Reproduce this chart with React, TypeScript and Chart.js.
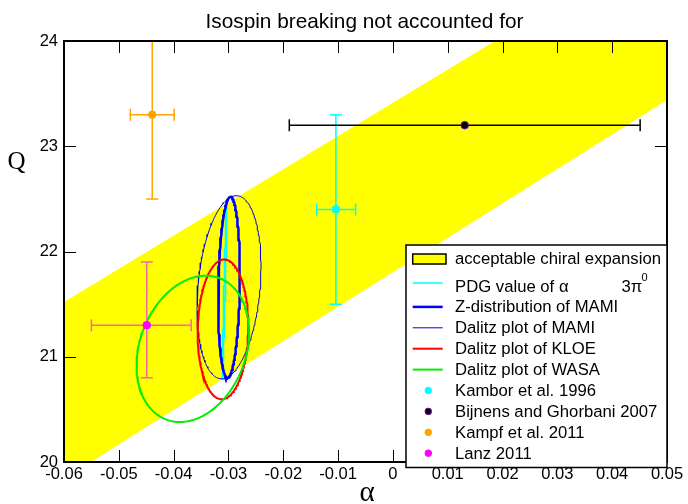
import React, { useEffect, useRef } from 'react';
import { Chart, registerables } from 'chart.js';

Chart.register(...registerables);

// ---------- text ----------
const TITLE = 'Isospin breaking not accounted for';
const X_TITLE = 'α';
const Y_TITLE = 'Q';

// ---------- axes ----------
const X_MIN = -0.06;
const X_MAX = 0.05;
const X_STEP = 0.01;
const Y_MIN = 20;
const Y_MAX = 24;
const Y_STEP = 1;

// ---------- acceptable band (straight edges) ----------
const bandLabel = 'acceptable chiral expansion';
const bandAlpha = [-0.06, 0.05];
const bandLowerQ = [19.84, 23.44];
const bandUpperQ = [21.52, 24.99];

// ---------- ellipses ----------
const ellipseLabels = [
  'PDG value of α',
  'Z-distribution of MAMI',
  'Dalitz plot of MAMI',
  'Dalitz plot of KLOE',
  'Dalitz plot of WASA',
];
const ellipseAlpha = [-0.0307, -0.0299, -0.0299, -0.031, -0.0365];
const ellipseQ = [21.64, 21.66, 21.66, 21.26, 21.075];
const ellipseSigmaAlpha = [0.00042, 0.00197, 0.00584, 0.00462, 0.01027];
const ellipseSigmaQ = [0.86, 0.86, 0.87, 0.664, 0.695];
const ellipseRho = [0.95, 0.14, 0.23, 0.05, 0.23];

// ---------- points with error bars ----------
const pointLabels = ['Kambor et al. 1996', 'Bijnens and Ghorbani 2007', 'Kampf et al. 2011', 'Lanz 2011'];
const pointAlpha = [-0.0104, 0.0131, -0.0439, -0.0449];
const pointQ = [22.4, 23.2, 23.3, 21.3];
const alphaErrLow = [0.0035, 0.032, 0.004, 0.0101];
const alphaErrHigh = [0.0036, 0.032, 0.004, 0.0081];
const qErrLow = [0.9, 0, 0.8, 0.5];
const qErrHigh = [0.9, 0, 0.8, 0.6];

// ---------- styles ----------
const BAND_COLOR = '#ffff00';
const ellipseColors = ['#00ffff', '#0000ff', '#0000dd', '#ff0000', '#00ee00'];
const ellipseWidths = [1.5, 2.5, 1, 2, 2];
const pointFill = ['#00ffff', '#000000', '#ffa500', '#ff00ff'];
const pointEdge = ['#00ffff', '#8a00c8', '#ffa500', '#ff00ff'];
const errorColors = ['#00ffff', '#000000', '#ffa500', '#ff66aa'];
const SANS = '"Liberation Sans", Arial, Helvetica, sans-serif';
const SERIF = '"Liberation Serif", "Times New Roman", serif';

function ellipsePoints(i: number) {
  const pts: { x: number; y: number }[] = [];
  const n = 200;
  const r = ellipseRho[i];
  const k = Math.sqrt(1 - r * r);
  for (let j = 0; j <= n; j++) {
    const t = (2 * Math.PI * j) / n;
    pts.push({
      x: ellipseAlpha[i] + ellipseSigmaAlpha[i] * Math.cos(t),
      y: ellipseQ[i] + ellipseSigmaQ[i] * (r * Math.cos(t) + k * Math.sin(t)),
    });
  }
  return pts;
}

const POINTS_INDEX = 0;
const CAP = 6;

const errorBarPlugin = {
  id: 'errorBars',
  beforeDatasetDraw(chart: any, args: any) {
    if (args.index !== POINTS_INDEX) return;
    const { ctx, chartArea: ca } = chart;
    const x = chart.scales.x;
    const y = chart.scales.y;
    ctx.save();
    ctx.beginPath();
    ctx.rect(ca.left, ca.top, ca.right - ca.left, ca.bottom - ca.top);
    ctx.clip();
    ctx.lineWidth = 1.5;
    pointAlpha.forEach((a, i) => {
      ctx.strokeStyle = errorColors[i];
      const px = x.getPixelForValue(a);
      const py = y.getPixelForValue(pointQ[i]);
      const xl = x.getPixelForValue(a - alphaErrLow[i]);
      const xr = x.getPixelForValue(a + alphaErrHigh[i]);
      ctx.beginPath();
      ctx.moveTo(xl, py);
      ctx.lineTo(xr, py);
      ctx.moveTo(xl, py - CAP);
      ctx.lineTo(xl, py + CAP);
      ctx.moveTo(xr, py - CAP);
      ctx.lineTo(xr, py + CAP);
      if (qErrLow[i] > 0 || qErrHigh[i] > 0) {
        const yb = y.getPixelForValue(pointQ[i] - qErrLow[i]);
        const yt = y.getPixelForValue(pointQ[i] + qErrHigh[i]);
        ctx.moveTo(px, yb);
        ctx.lineTo(px, yt);
        ctx.moveTo(px - CAP, yb);
        ctx.lineTo(px + CAP, yb);
        ctx.moveTo(px - CAP, yt);
        ctx.lineTo(px + CAP, yt);
      }
      ctx.stroke();
    });
    ctx.restore();
  },
};

const framePlugin = {
  id: 'frameTicks',
  afterDatasetsDraw(chart: any) {
    const { ctx, chartArea: ca } = chart;
    const x = chart.scales.x;
    const y = chart.scales.y;
    const TL = 12;
    ctx.save();
    ctx.strokeStyle = '#000';
    ctx.lineWidth = 1;
    ctx.beginPath();
    x.ticks.forEach((t: any) => {
      if (t.value <= X_MIN + 1e-9 || t.value >= X_MAX - 1e-9) return;
      const px = Math.round(x.getPixelForValue(t.value)) + 0.5;
      ctx.moveTo(px, ca.bottom);
      ctx.lineTo(px, ca.bottom - TL);
      ctx.moveTo(px, ca.top);
      ctx.lineTo(px, ca.top + TL);
    });
    y.ticks.forEach((t: any) => {
      if (t.value <= Y_MIN + 1e-9 || t.value >= Y_MAX - 1e-9) return;
      const py = Math.round(y.getPixelForValue(t.value)) + 0.5;
      ctx.moveTo(ca.left, py);
      ctx.lineTo(ca.left + TL, py);
      ctx.moveTo(ca.right, py);
      ctx.lineTo(ca.right - TL, py);
    });
    ctx.stroke();
    ctx.lineWidth = 2;
    ctx.strokeRect(ca.left, ca.top, ca.right - ca.left, ca.bottom - ca.top);
    ctx.restore();
  },
};

const textPlugin = {
  id: 'textsAndLegend',
  afterDraw(chart: any) {
    const { ctx, chartArea: ca } = chart;
    ctx.save();
    ctx.fillStyle = '#000';
    // title
    ctx.font = `20.8px ${SANS}`;
    ctx.textAlign = 'center';
    ctx.textBaseline = 'alphabetic';
    ctx.fillText(TITLE, (ca.left + ca.right) / 2 - 1, 27.5);
    // axis titles
    ctx.font = `25px ${SERIF}`;
    ctx.fillText(Y_TITLE, 16.5, 169);
    ctx.font = `29px ${SERIF}`;
    ctx.fillText(X_TITLE, 367, 501);

    // legend
    const L = { left: 406, top: 245, right: ca.right, bottom: 467.5 };
    ctx.fillStyle = '#fff';
    ctx.fillRect(L.left, L.top, L.right - L.left, L.bottom - L.top);
    ctx.strokeStyle = '#000';
    ctx.lineWidth = 1.5;
    ctx.strokeRect(L.left, L.top, L.right - L.left, L.bottom - L.top);

    const symL = 412.7;
    const symR = 442.7;
    const textX = 455;
    ctx.textAlign = 'left';
    ctx.font = `16.7px ${SANS}`;

    // band row
    ctx.fillStyle = BAND_COLOR;
    ctx.fillRect(symL, 254, 33.3, 10);
    ctx.strokeRect(symL, 254, 33.3, 10);
    ctx.fillStyle = '#000';
    ctx.fillText(bandLabel, textX, 263.5);

    const base0 = 291.5;
    const step = 20.9;
    ellipseLabels.forEach((lab, i) => {
      const yb = base0 + step * i;
      const ys = i === 0 ? 283 : yb - 5.5;
      ctx.strokeStyle = ellipseColors[i];
      ctx.lineWidth = ellipseWidths[i];
      ctx.beginPath();
      ctx.moveTo(symL, ys);
      ctx.lineTo(symR, ys);
      ctx.stroke();
      ctx.fillStyle = '#000';
      ctx.font = `16.7px ${SANS}`;
      ctx.fillText(lab, textX, yb);
      if (i === 0) {
        ctx.fillText('3π', 621.5, yb);
        ctx.font = `11px ${SANS}`;
        ctx.fillText('0', 641.5, yb - 11);
      }
    });
    pointLabels.forEach((lab, j) => {
      const yb = base0 + step * (ellipseLabels.length + j);
      const ys = yb - 5.5;
      ctx.fillStyle = pointFill[j];
      ctx.strokeStyle = pointEdge[j];
      ctx.lineWidth = 1;
      ctx.beginPath();
      ctx.arc(428.3, ys, 3.3, 0, Math.PI * 2);
      ctx.fill();
      ctx.stroke();
      ctx.fillStyle = '#000';
      ctx.font = `16.7px ${SANS}`;
      ctx.fillText(lab, textX, yb);
    });
    ctx.restore();
  },
};

function fmt(v: number) {
  return String(parseFloat(Number(v).toFixed(2)));
}

export default function App() {
  const ref = useRef<HTMLCanvasElement>(null);
  useEffect(() => {
    if (!ref.current) return;
    const datasets: any[] = [];
    datasets.push({
      label: 'points',
      data: pointAlpha.map((a, i) => ({ x: a, y: pointQ[i] })),
      showLine: false,
      pointRadius: 3.8,
      pointBackgroundColor: pointFill,
      pointBorderColor: pointEdge,
      pointBorderWidth: 1,
      order: 0,
    });
    ellipseLabels.forEach((lab, i) => {
      datasets.push({
        label: lab,
        data: ellipsePoints(i),
        borderColor: ellipseColors[i],
        borderWidth: ellipseWidths[i],
        pointRadius: 0,
        fill: false,
        tension: 0,
        order: 6 - i,
      });
    });
    const lowerIndex = datasets.length;
    datasets.push({
      label: bandLabel + ' (lower)',
      data: bandAlpha.map((a, i) => ({ x: a, y: bandLowerQ[i] })),
      borderWidth: 0,
      borderColor: 'rgba(0,0,0,0)',
      pointRadius: 0,
      fill: false,
      order: 10,
    });
    datasets.push({
      label: bandLabel,
      data: bandAlpha.map((a, i) => ({ x: a, y: bandUpperQ[i] })),
      borderWidth: 0,
      borderColor: 'rgba(0,0,0,0)',
      backgroundColor: BAND_COLOR,
      pointRadius: 0,
      fill: { target: lowerIndex, above: BAND_COLOR, below: BAND_COLOR },
      order: 10,
    });

    const chart = new Chart(ref.current, {
      type: 'line',
      data: { datasets },
      options: {
        responsive: false,
        animation: false,
        events: [],
        layout: { padding: { top: 41, right: 21, left: 0, bottom: 0 } },
        plugins: {
          legend: { display: false },
          tooltip: { enabled: false },
          title: { display: false },
        },
        scales: {
          x: {
            type: 'linear',
            min: X_MIN,
            max: X_MAX,
            afterFit: (s: any) => {
              s.height = 42;
            },
            ticks: {
              stepSize: X_STEP,
              autoSkip: false,
              maxRotation: 0,
              padding: 3,
              color: '#000',
              font: { family: SANS, size: 16.5 },
              callback: (v: any) => fmt(v),
            },
            grid: { display: false, drawTicks: false },
            border: { display: false },
          },
          y: {
            type: 'linear',
            min: Y_MIN,
            max: Y_MAX,
            afterFit: (s: any) => {
              s.width = 64;
            },
            ticks: {
              stepSize: Y_STEP,
              padding: 6,
              color: '#000',
              font: { family: SANS, size: 16.5 },
              callback: (v: any) => fmt(v),
            },
            grid: { display: false, drawTicks: false },
            border: { display: false },
          },
        },
      } as any,
      plugins: [errorBarPlugin, framePlugin, textPlugin],
    });
    return () => chart.destroy();
  }, []);
  return (
    <div style={{ position: 'fixed', left: 0, top: 0, width: 688, height: 504, background: '#fff' }}>
      <canvas ref={ref} width={688} height={504} style={{ width: 688, height: 504, display: 'block' }} />
    </div>
  );
}
